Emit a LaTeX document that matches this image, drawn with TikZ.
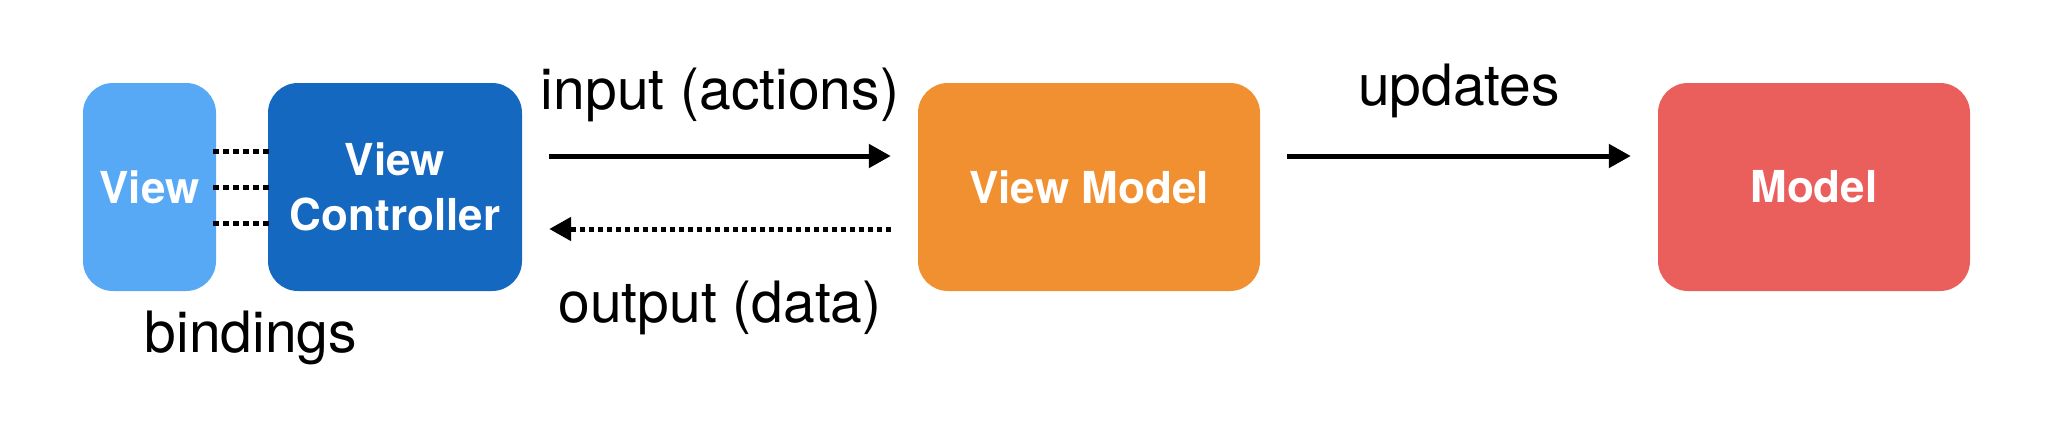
\documentclass[tikz,border=0pt]{standalone}
\usepackage{fontspec}
\setmainfont{TeX Gyre Heros}
\usetikzlibrary{arrows.meta}
\definecolor{viewblue}{HTML}{57A9F5}
\definecolor{ctrlblue}{HTML}{1468BF}
\definecolor{vmorange}{HTML}{F09030}
\definecolor{modelred}{HTML}{EA5F5C}
\tikzset{
	block/.style   = {rectangle, rounded corners=30pt, minimum height=208pt, inner sep=0pt, align=center, text=white, font=\fontsize{44}{55}\selectfont\bfseries},
	txt/.style     = {anchor=base, inner sep=0pt, font=\fontsize{57}{68}\selectfont},
	flow/.style    = {line width=5pt, -{Triangle[length=22pt, width=23pt]}, shorten <=27pt, shorten >=27pt},
	dots/.style    = {line width=5pt, dash pattern=on 5pt off 4pt},
	binding/.style = {line width=5pt, dash pattern=on 6pt off 4pt, shorten <=-3pt, shorten >=-5pt},
}
\begin{document}
\begin{tikzpicture}[x=1pt, y=1pt]
	\useasboundingbox (0,0) rectangle (2056,-428);

	% Draw the boxes
	\draw
	node[block, fill=viewblue, minimum width=133pt] at (149.5,-187) (view) {View}
	node[block, fill=ctrlblue, minimum width=254pt, right of = view      , node distance = 245.5pt] (controller) {View\\Controller}
	node[block, fill=vmorange, minimum width=342pt, right of = controller, node distance = 694pt] (viewmodel) {View Model}
	node[block, fill=modelred, minimum width=312pt, right of = viewmodel , node distance = 725pt] (model) {Model};

	% Draw the bindings
	\draw[binding] ([yshift=36pt]view.east) -- ([yshift=36pt]controller.west);
	\draw[binding] (view.east) -- (controller.west);
	\draw[binding] ([yshift=-36pt]view.east) -- ([yshift=-36pt]controller.west);
	\node[txt] at (251,-352) (bindings) {bindings};

	% Connect everything together
	\draw[flow] ([yshift=31pt]controller.east) -- ([yshift=31pt]viewmodel.west) node[midway, txt, yshift=46pt] {input (actions)};
	\draw[flow, dots] ([yshift=-42pt]viewmodel.west) -- ([yshift=-42pt]controller.east) node[midway, txt, yshift=-93pt] {output (data)};
	\draw[flow] ([yshift=31pt]viewmodel.east) -- ([yshift=31pt]model.west) node[midway, txt, yshift=51pt] {updates};
\end{tikzpicture}
\end{document}
